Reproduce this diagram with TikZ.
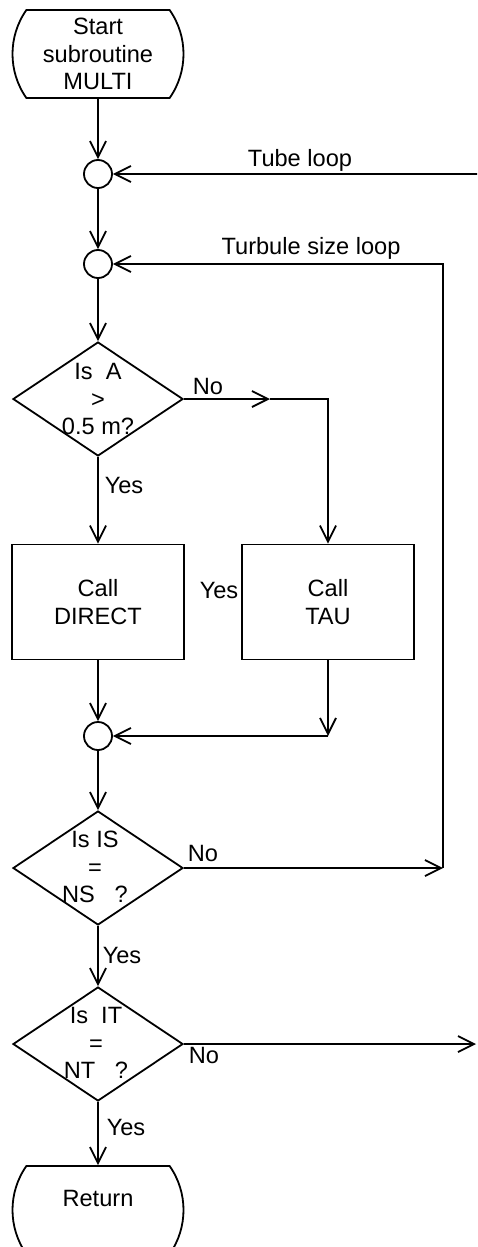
\documentclass[tikz,border=0pt]{standalone}
\usepackage{fontspec}
\setmainfont{Liberation Sans}
\usepackage{tikz}
\usetikzlibrary{positioning,arrows.meta,shapes.geometric,shapes.misc}

\begin{document}
\begin{tikzpicture}[x=0.5pt,y=-0.5pt,line width=0.9pt,
  every node/.style={font=\fontsize{11.8}{13.6}\selectfont},
  flow/.style={-{Straight Barb[length=8pt,width=8pt]}},
  term/.style={draw,rounded rectangle,rounded rectangle arc length=70,minimum width=85.5pt,minimum height=44pt,inner sep=0pt,align=center},
  decision/.style={draw,diamond,minimum width=85pt,minimum height=57pt,inner sep=0pt},
  qtext/.style={align=center,inner sep=0pt},
  proc/.style={draw,rectangle,minimum width=86pt,minimum height=57.5pt,align=center},
  junction/.style={draw,circle,minimum size=14pt,inner sep=0pt}]
  \clip (0,0) rectangle (477,1247);
  % main column
  \node[term] (start) at (98,54) {Start\\subroutine\\MULTI};
  \node[junction] (c1) at (98,174) {};
  \node[junction] (c2) at (98,264) {};
  \node[decision] (dA) at (98,399) {};
  \node[qtext] (dAt) at (dA) {Is~~A\\>\\0.5 m?};
  \node[proc] (direct) at (98,602) {Call\\DIRECT};
  \node[proc] (tau) at (328,602) {Call\\TAU};
  \node[junction] (c3) at (98,736) {};
  \node[decision] (dIS) at (98,868) {};
  \node[qtext] (dISt) at (95,867) {Is IS\\=\\NS~~~?};
  \node[decision] (dIT) at (98,1044) {};
  \node[qtext] (dITt) at (96,1043) {Is~~IT\\=\\NT~~~?};
  \node[term,text depth=12pt] (ret) at (98,1210) {Return};
  \draw[flow] (start) -- (c1);
  \draw[flow] (c1) -- (c2);
  \draw[flow] (c2) -- (dA);
  \draw[flow] (dA) -- (direct);
  \coordinate (noA) at (270,399);
  \draw[flow] (dA.east) -- (noA);
  \draw[flow] (noA) -| (tau.north);
  \draw[flow] (direct) -- (c3);
  \coordinate (tauJ) at (328,736);
  \draw[flow] (tau.south) -- (tauJ);
  \draw[flow] (tauJ) -- (c3);
  \draw[flow] (c3) -- (dIS);
  \draw[flow] (dIS) -- (dIT);
  \draw[flow] (dIT) -- (ret);
  % turbule size loop
  \coordinate (tsR) at (443,868);
  \draw[flow] (dIS.east) -- (tsR);
  \draw[flow] (tsR) |- (c2);
  % tube loop
  \coordinate (tubeOut) at (476,1044);
  \coordinate (tubeIn) at (478,174);
  \draw[flow] (dIT.east) -- (tubeOut);
  \draw[flow] (tubeIn) -- (c1);
  % labels
  \node (tubeLbl) at (300,160) {Tube loop};
  \node (tsLbl) at (311,248) {Turbule size loop};
  \node (noAL) at (208,386) {No};
  \node (yesAL) at (124,485) {Yes};
  \node (yesTau) at (219,590) {Yes};
  \node (noISL) at (203,853) {No};
  \node (yesISL) at (122,955) {Yes};
  \node (noITL) at (204,1055) {No};
  \node (yesITL) at (126,1127) {Yes};
\end{tikzpicture}
\end{document}
